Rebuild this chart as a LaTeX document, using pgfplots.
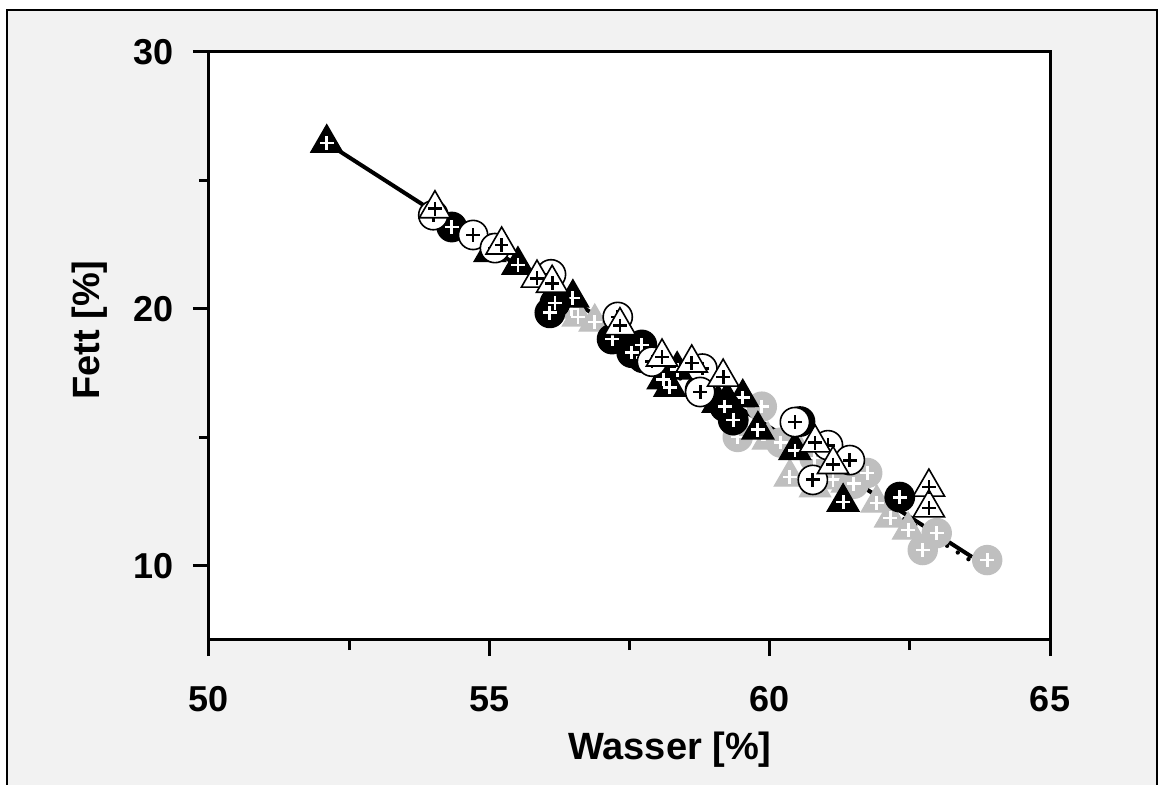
\documentclass[border=0pt]{standalone}
\usepackage{pgfplots}
\usepackage{pgfplotstable}
\pgfplotsset{compat=1.18}
\usepackage{fontspec}
\setmainfont{Liberation Sans}
\definecolor{bg}{HTML}{F2F2F2}
\definecolor{mg}{HTML}{BFBFBF}

\pgfplotstableread{
x y
52.10 26.46
55.01 22.20
55.51 21.71
56.49 20.43
58.22 16.96
58.35 17.63
58.10 17.25
59.08 16.34
59.24 16.45
59.52 16.55
59.79 15.30
60.45 14.50
61.31 12.49
}\bt
\pgfplotstableread{
x y
54.03 23.90
55.22 22.49
55.85 21.20
56.12 21.00
57.33 19.35
58.08 18.13
58.61 17.90
59.17 17.35
60.81 14.79
61.13 13.95
62.84 13.07
62.84 12.26
}\wt
\pgfplotstableread{
x y
54.33 23.19
56.17 20.23
56.08 19.85
57.19 18.83
57.54 18.30
57.72 18.60
57.74 18.10
58.76 16.85
59.20 16.20
59.35 15.68
60.54 15.62
62.32 12.68
}\bc
\pgfplotstableread{
x y
54.00 23.65
54.71 22.88
55.10 22.37
56.10 21.35
57.29 19.69
57.90 17.95
58.80 17.68
58.76 16.77
60.45 15.60
61.04 14.70
61.43 14.12
60.77 13.35
}\wc
\pgfplotstableread{
x y
56.47 20.00
56.58 19.69
56.88 19.49
59.97 14.90
60.49 14.59
60.36 13.46
60.81 13.04
61.13 13.35
61.38 13.23
61.91 12.45
62.15 11.87
62.47 11.40
}\gt
\pgfplotstableread{
x y
59.86 16.20
59.43 15.02
60.20 14.80
60.80 14.20
61.74 13.62
61.50 13.20
62.98 11.28
62.73 10.62
63.88 10.23
}\gc

\begin{document}
\begin{tikzpicture}
\useasboundingbox (-104.5pt,-72.5pt) rectangle (475.5pt,320pt);
\fill[white] (-104.5pt,-72.5pt) rectangle (475.5pt,320pt);
\draw[fill=bg, line width=1pt] (-101pt,-90pt) rectangle (474pt,315pt);
\begin{axis}[
  at={(0pt,0pt)}, anchor=south west,
  scale only axis, width=420.5pt, height=294pt,
  xmin=50, xmax=65, ymin=7.12, ymax=30,
  axis background/.style={fill=white},
  axis line style={line width=1.5pt},
  every tick/.style={black, line width=1.5pt},
  tick align=outside, tick pos=left,
  major tick length=8pt, minor tick length=5pt,
  xtick={50,55,60,65}, minor xtick={52.5,57.5,62.5},
  ytick={10,20,30}, minor ytick={15,25},
  /pgf/number format/assume math mode=true,
  ticklabel style={font=\bfseries\fontsize{18}{18}\selectfont},
  xticklabel style={anchor=north, inner sep=0pt, yshift=-15pt},
  yticklabel style={anchor=east, inner sep=0pt, xshift=-9.5pt},
  xlabel={Wasser [\%]}, ylabel={Fett [\%]},
  label style={font=\bfseries\fontsize{19}{19}\selectfont},
  xlabel style={at={(axis description cs:0.548,-0.187)}, anchor=center},
  ylabel style={at={(axis description cs:-0.1415,0.527)}, anchor=center},
  clip=false,
]
% gray markers first
\addplot[only marks, mark=triangle*, mark size=9pt, mark options={fill=mg, draw=mg, line width=0.6pt}] table[x=x,y=y] {\gt};
\addplot[only marks, mark=+, mark size=3.4pt, mark options={white, line width=1.4pt}] table[x=x,y=y] {\gt};
\addplot[only marks, mark=*, mark size=7.3pt, mark options={fill=mg, draw=mg, line width=0.6pt}] table[x=x,y=y] {\gc};
\addplot[only marks, mark=+, mark size=3.4pt, mark options={white, line width=1.4pt}] table[x=x,y=y] {\gc};
% regression lines
\addplot[black, line width=2pt, mark=none] coordinates {(52.10,26.46) (63.61,10.35)};
\addplot[black, line width=2.2pt, mark=none, line cap=round, dash pattern=on 0pt off 6.3pt] coordinates {(56.50,19.90) (63.71,10.04)};
% black triangles
\addplot[only marks, mark=triangle*, mark size=9pt, mark options={fill=black, draw=black, line width=0.8pt}] table[x=x,y=y] {\bt};
\addplot[only marks, mark=+, mark size=3.4pt, mark options={white, line width=1.4pt}] table[x=x,y=y] {\bt};
% black circles
\addplot[only marks, mark=*, mark size=7.3pt, mark options={fill=black, draw=black, line width=0.8pt}] table[x=x,y=y] {\bc};
\addplot[only marks, mark=+, mark size=3.4pt, mark options={white, line width=1.4pt}] table[x=x,y=y] {\bc};
% white circles
\addplot[only marks, mark=*, mark size=7.3pt, mark options={fill=white, draw=black, line width=0.8pt}] table[x=x,y=y] {\wc};
\addplot[only marks, mark=+, mark size=3.4pt, mark options={black, line width=1.4pt}] table[x=x,y=y] {\wc};
% white triangles
\addplot[only marks, mark=triangle*, mark size=9pt, mark options={fill=white, draw=black, line width=0.8pt}] table[x=x,y=y] {\wt};
\addplot[only marks, mark=+, mark size=3.4pt, mark options={black, line width=1.4pt}] table[x=x,y=y] {\wt};
\end{axis}
\end{tikzpicture}
\end{document}
